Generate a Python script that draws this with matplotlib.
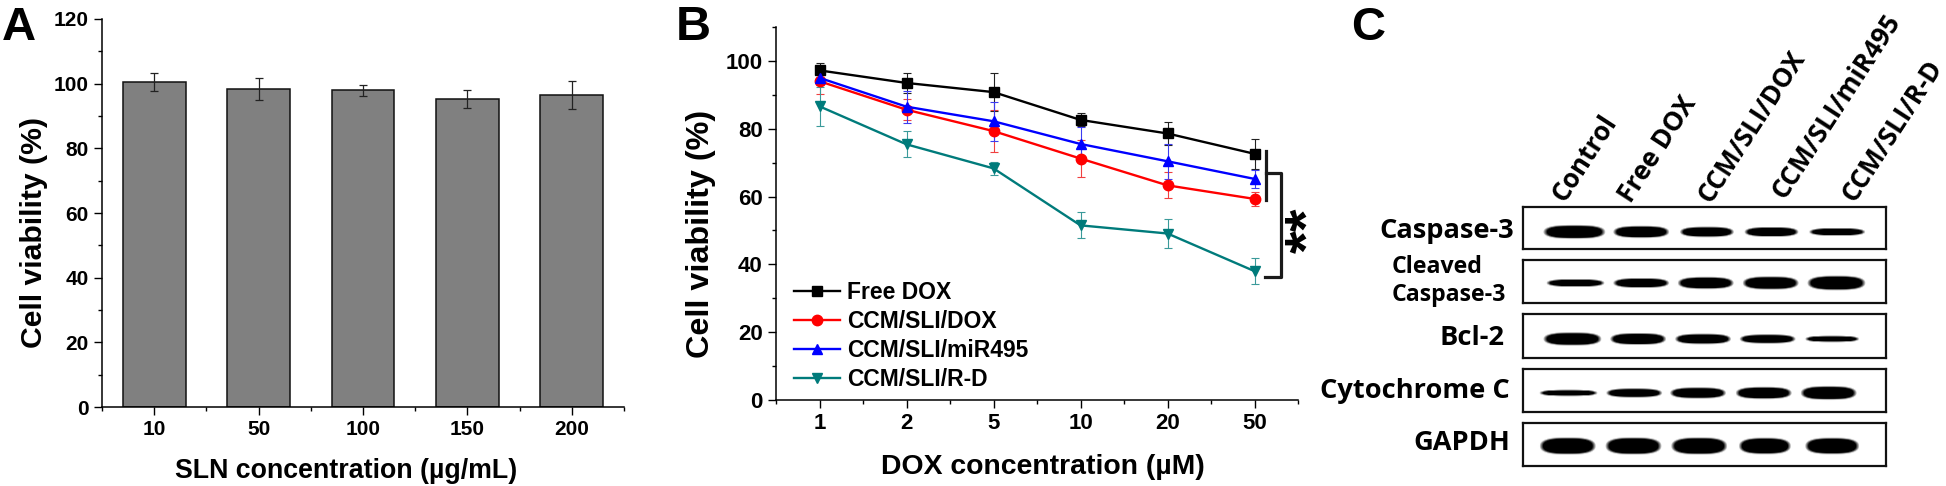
import numpy as np
import matplotlib
matplotlib.use("Agg")
import matplotlib.pyplot as plt
from matplotlib.lines import Line2D
from matplotlib.ticker import MultipleLocator, FixedLocator

W, H = 1946, 486
plt.rcParams['font.family'] = ['Liberation Sans', 'DejaVu Sans']
plt.rcParams['font.weight'] = 'bold'

# Panel A
sln_labels = ['10', '50', '100', '150', '200']
sln_values = [100.6, 98.2, 97.9, 95.3, 96.5]
sln_errors = [2.8, 3.4, 1.6, 2.7, 4.2]

# Panel B
dox_labels = ['1', '2', '5', '10', '20', '50']
free_dox = [97.2, 93.5, 90.8, 82.6, 78.6, 72.6]
free_dox_err = [2.3, 3.0, 5.7, 1.9, 3.3, 4.5]
ccm_dox = [94.0, 85.6, 79.3, 71.2, 63.3, 59.3]
ccm_dox_err = [3.8, 3.1, 6.2, 5.4, 3.8, 2.0]
ccm_mir = [95.0, 86.5, 82.2, 75.5, 70.4, 65.2]
ccm_mir_err = [2.0, 4.7, 5.7, 5.0, 5.2, 2.6]
ccm_rd = [86.6, 75.4, 68.3, 51.5, 49.1, 38.0]
ccm_rd_err = [5.8, 3.8, 1.8, 3.8, 4.4, 3.8]

# Panel C
lanes = ['Control', 'Free DOX', 'CCM/SLI/DOX', 'CCM/SLI/miR495', 'CCM/SLI/R-D']
blot_names = ['Caspase-3', 'Cleaved Caspase-3', 'Bcl-2', 'Cytochrome C', 'GAPDH']
blot_centers = [[605, 778, 948, 1115, 1285], [608, 778, 945, 1113, 1283],
                [600, 770, 938, 1105, 1272], [590, 760, 925, 1095, 1263],
                [588, 758, 928, 1098, 1272]]
blot_widths = [[155, 140, 135, 135, 140], [145, 140, 140, 140, 145],
               [145, 140, 140, 140, 135], [145, 140, 140, 140, 140],
               [140, 140, 140, 130, 135]]
blot_thick = [[40, 35, 30, 28, 22], [22, 28, 35, 38, 42],
              [38, 34, 30, 26, 18], [18, 26, 32, 35, 40],
              [50, 50, 50, 48, 48]]
blot_rows = [(207, 249, 232), (260, 303, 283), (314, 358, 339), (369, 412, 393), (423, 466, 446)]


def axpx(l, t, r, b):
    return [l / W, 1 - b / H, (r - l) / W, (b - t) / H]


def fx(x):
    return x / W


def fy(y):
    return 1 - y / H


fig = plt.figure(figsize=(W / 100, H / 100), dpi=100, facecolor='white')


def style(ax, size):
    for s in ('top', 'right'):
        ax.spines[s].set_visible(False)
    for s in ('left', 'bottom'):
        ax.spines[s].set_linewidth(1.1)
    ax.tick_params(which='major', direction='out', length=5.5, width=1.0, pad=4, labelsize=size)
    ax.tick_params(which='minor', direction='out', length=3, width=1.0)


# A
a = fig.add_axes(axpx(102, 19, 624, 407))
xa = np.arange(1, len(sln_values) + 1)
a.bar(xa, sln_values, width=0.6, color='#808080', edgecolor='#111111', linewidth=1.1,
      yerr=sln_errors, ecolor='#222222', error_kw=dict(elinewidth=0.9, capsize=3, capthick=0.9))
a.set_xlim(0.5, 5.5)
a.set_ylim(0, 120)
a.set_xticks(xa, sln_labels)
a.xaxis.set_minor_locator(FixedLocator(np.arange(0.5, 6, 1)))
a.yaxis.set_major_locator(MultipleLocator(20))
a.yaxis.set_minor_locator(MultipleLocator(10))
style(a, 15)
a.set_xlabel('SLN concentration (µg/mL)', fontsize=19.3, fontweight='bold')
a.set_ylabel('Cell viability (%)', fontsize=21.7, fontweight='bold')
a.xaxis.set_label_coords(0.467, -0.132)
a.yaxis.set_label_coords((48 - 102) / 522, 0.45)

# B
b = fig.add_axes(axpx(776, 27, 1298, 400))
xb = np.arange(1, len(dox_labels) + 1)
series = [('Free DOX', free_dox, free_dox_err, '#000000', '#222222', 's'),
          ('CCM/SLI/DOX', ccm_dox, ccm_dox_err, '#ff0000', '#f04040', 'o'),
          ('CCM/SLI/miR495', ccm_mir, ccm_mir_err, '#0000ff', '#3c3cf0', '^'),
          ('CCM/SLI/R-D', ccm_rd, ccm_rd_err, '#007b7b', '#3a9a9a', 'v')]
for name, vals, errs, col, ecol, mk in series:
    b.errorbar(xb, vals, yerr=errs, color=col, marker=mk, ms=7.5, lw=1.7, label=name,
               elinewidth=0.8, capsize=3.2, capthick=0.8, ecolor=ecol)
b.set_xlim(0.5, 6.5)
b.set_ylim(0, 110)
b.set_xticks(xb, dox_labels)
b.xaxis.set_minor_locator(FixedLocator(np.arange(0.5, 7, 1)))
b.yaxis.set_major_locator(MultipleLocator(20))
b.yaxis.set_minor_locator(MultipleLocator(10))
style(b, 16)
b.set_yticks([0, 20, 40, 60, 80, 100])
b.set_xlabel('DOX concentration (µM)', fontsize=20.4, fontweight='bold')
b.set_ylabel('Cell viability (%)', fontsize=23.3, fontweight='bold')
b.xaxis.set_label_coords(0.511, -0.146)
b.yaxis.set_label_coords((716 - 776) / 522, 0.445)
h, l = b.get_legend_handles_labels()
handles = [Line2D([], [], color=s[3], marker=s[5], ms=7.5, lw=1.7) for s in series]
b.legend(handles, l, loc='lower left', bbox_to_anchor=(0.035, 0.025), frameon=False, fontsize=16.5,
         handlelength=2.0, handletextpad=0.3, labelspacing=0.26, borderpad=0, borderaxespad=0)

# bracket
for xs, ys in [((1266, 1266), (151, 200)),
               ((1266, 1281, 1281, 1265), (173, 173, 277, 277))]:
    fig.add_artist(Line2D([fx(v) for v in xs], [fy(v) for v in ys], color='#1a1a1a', lw=2.3))
fig.text(fx(1310), fy(230), '**', rotation=90, ha='center', va='center', fontsize=42, fontweight='bold')

# letters
fig.text(fx(2), fy(40), 'A', fontsize=34, fontweight='bold', ha='left', va='baseline')
fig.text(fx(676), fy(40), 'B', fontsize=35, fontweight='bold', ha='left', va='baseline')
fig.text(fx(1351), fy(40), 'C', fontsize=34, fontweight='bold', ha='left', va='baseline')

# C
cf = 'Open Sans'
xs_px = np.arange(1523, 1887)
for row, (top, bot, yc) in enumerate(blot_rows):
    ax = fig.add_axes(axpx(1523, top, 1886, bot))
    ys_px = np.arange(top, bot + 1)
    X, Y = np.meshgrid(xs_px, ys_px)
    img = np.zeros_like(X, dtype=float)
    for c, w, t in zip(blot_centers[row], blot_widths[row], blot_thick[row]):
        cx = 1340 + c / 2.587
        hw = w / 2.587 / 2
        ht = t / 3 / 2
        r = np.abs((X - cx) / hw) ** 3 + np.abs((Y - yc) / ht) ** 2.4
        img = np.maximum(img, np.clip(2.4 * (1.15 - r), 0, 1))
    ax.imshow(1 - img, cmap='gray', vmin=0, vmax=1, aspect='auto', interpolation='bilinear',
              extent=(1523, 1886, bot, top))
    ax.set_xticks([])
    ax.set_yticks([])
    for s in ax.spines.values():
        s.set_linewidth(1.6)
        s.set_color('#111111')

for x, y, s in [(1514, 231, blot_names[0]), (1504, 338, blot_names[2]),
                (1510, 391, blot_names[3]), (1510, 443, blot_names[4])]:
    fig.text(fx(x), fy(y), s, family=cf, fontweight='bold', fontsize=19.6, ha='right', va='center')
fig.text(fx(1392), fy(267), 'Cleaved', family=cf, fontweight='bold', fontsize=16.7, ha='left', va='center')
fig.text(fx(1392), fy(295), 'Caspase-3', family=cf, fontweight='bold', fontsize=16.7, ha='left', va='center')

for lane, (x, y) in zip(lanes, [(1565, 203), (1631, 204), (1711, 204), (1784, 200), (1854, 203)]):
    fig.text(fx(x), fy(y), lane, family=cf, fontweight='bold', fontsize=18.9, rotation=57,
             rotation_mode='anchor', ha='left', va='baseline')

fig.savefig('out.png', dpi=100, facecolor='white')
